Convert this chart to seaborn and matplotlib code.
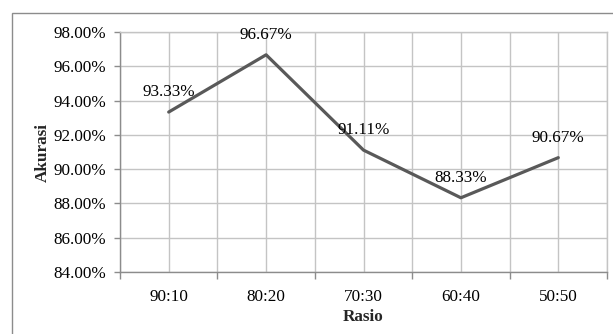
import matplotlib
matplotlib.use("Agg")
import matplotlib.pyplot as plt
import matplotlib.patches as mpatches
from matplotlib.ticker import FixedLocator, FuncFormatter
import seaborn as sns
import pandas as pd

rasio = ["90:10", "80:20", "70:30", "60:40", "50:50"]
akurasi = [93.33, 96.67, 91.11, 88.33, 90.67]
y_ticks = [84, 86, 88, 90, 92, 94, 96, 98]

sns.set_theme(style="white")
plt.rcParams["font.family"] = ["Liberation Serif", "DejaVu Serif"]

df = pd.DataFrame({"Rasio": rasio, "Akurasi": akurasi})

fig = plt.figure(figsize=(6.13, 3.34), dpi=100)
ax = fig.add_axes([120 / 613, 1 - 272 / 334, (607 - 120) / 613, (272 - 32) / 334])

# outer chart frame
fig.patches.append(mpatches.Rectangle((12 / 613, -0.1), 1.2, 1 - 13 / 334 + 0.1,
                                      transform=fig.transFigure, fill=False,
                                      edgecolor="#8c8c8c", linewidth=1.0))

grid_c = "#c4c4c4"
fs = 12.3
sns.lineplot(data=df, x="Rasio", y="Akurasi", ax=ax, color="#595959",
             linewidth=2.3, sort=False, zorder=3)

ax.set_xlim(-0.5, 4.5)
ax.set_ylim(84, 98)
ax.set_yticks(y_ticks)
ax.yaxis.set_major_formatter(FuncFormatter(lambda v, p: f"{v:.2f}%"))
ax.set_xticks(range(len(rasio)))
ax.set_xticklabels(rasio)
ax.xaxis.set_minor_locator(FixedLocator([i - 0.5 for i in range(len(rasio) + 1)]))

ax.grid(True, which="major", axis="both", color=grid_c, linewidth=1.0)
ax.grid(True, which="minor", axis="x", color=grid_c, linewidth=1.0)
ax.set_axisbelow(True)

ax.tick_params(axis="x", which="major", length=0, pad=12, labelsize=fs, colors="black")
ax.tick_params(axis="x", which="minor", length=5, direction="out", color="#8c8c8c", width=1, bottom=True)
ax.tick_params(axis="y", which="major", length=4, direction="out", color="#8c8c8c", width=1,
               left=True, pad=6, labelsize=fs, colors="black")

for s in ["left", "bottom"]:
    ax.spines[s].set_color("#8c8c8c")
    ax.spines[s].set_linewidth(1.0)
for s in ["top", "right"]:
    ax.spines[s].set_color(grid_c)
    ax.spines[s].set_linewidth(1.0)

ax.set_xlabel("Rasio", fontweight="bold", fontsize=fs, labelpad=3)
ax.set_ylabel("Akurasi", fontweight="bold", fontsize=fs, labelpad=2)

for i, v in enumerate(akurasi):
    ax.annotate(f"{v:.2f}%", (i, v), xytext=(0, 14.5), textcoords="offset points",
                ha="center", va="center", fontsize=fs, color="black", zorder=4)

fig.savefig("out.png", dpi=100)
